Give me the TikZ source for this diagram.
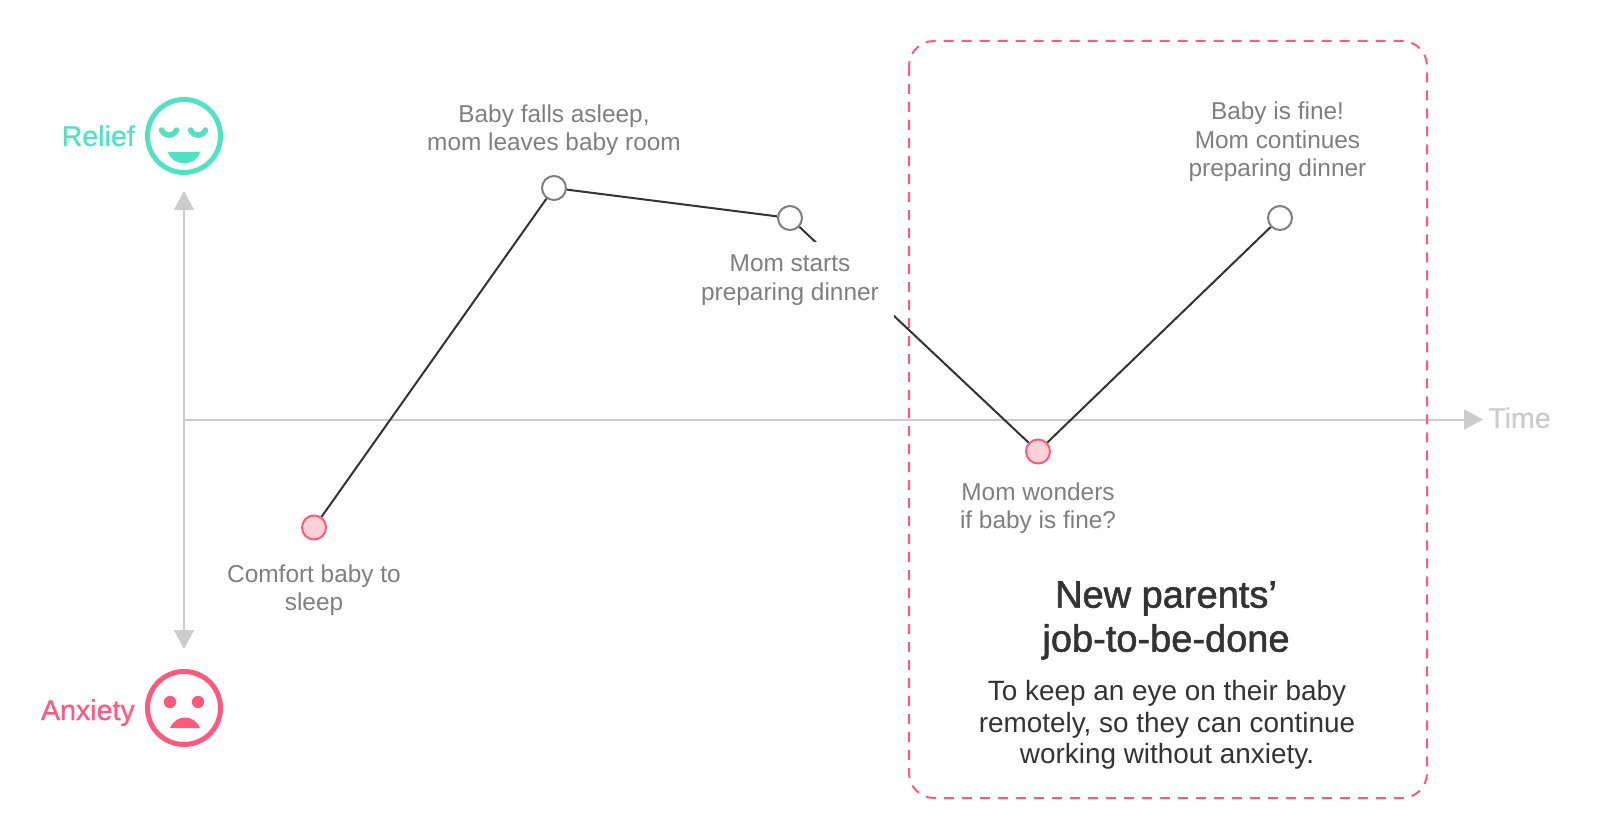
\documentclass[tikz,border=0pt]{standalone}
\usepackage{fontspec}
\setmainfont{Liberation Sans}
\newfontfamily\headfont[FakeBold=1.5]{Liberation Sans}
\newfontfamily\moodfont[FakeBold=0.6]{Liberation Sans}
\usetikzlibrary{arrows.meta}

\definecolor{reliefcol}{HTML}{50E3C2}
\definecolor{anxietycol}{HTML}{FF5A7D}
\definecolor{axiscol}{HTML}{CCCCCC}
\definecolor{textcol}{HTML}{7F7F7F}
\definecolor{linecol}{HTML}{333333}
\definecolor{lowfill}{HTML}{FFD2D8}

\tikzset{
  axisline/.style={draw=axiscol, line width=2pt},
  face/.style={circle, draw=#1, line width=5pt, minimum size=73pt, inner sep=0pt},
  highdot/.style={circle, draw=textcol, fill=white, line width=2pt, minimum size=24pt, inner sep=0pt},
  lowdot/.style={circle, draw=anxietycol, fill=lowfill, line width=2pt, minimum size=24pt, inner sep=0pt},
  journey/.style={draw=linecol, line width=2pt},
  steptext/.style={text=textcol, align=center, inner sep=0pt, font=\fontsize{24.4}{28.5}\selectfont},
  moodtext/.style={anchor=base east, inner sep=0pt, font=\moodfont\fontsize{28.6}{32}\selectfont}
}

\begin{document}
\begin{tikzpicture}[x=1pt, y=-1pt]

\def\xa{184}; % mood axis
\def\ya{419.5}; % time axis

\useasboundingbox (0,0) rectangle (1600,840);

% axes
\coordinate (top) at (\xa, 191);
\coordinate (bottom) at (\xa, 649);
\coordinate (origin) at (\xa, \ya);
\coordinate (end) at (1483, \ya);
\draw[axisline, {Triangle[length=19pt, width=20pt]}-{Triangle[length=19pt, width=20pt]}] (top) -- (bottom);
\draw[axisline, -{Triangle[length=19pt, width=20pt]}] (origin) -- (end);
\node[anchor=base west, inner sep=0pt, text=axiscol, font=\moodfont\fontsize{28.6}{32}\selectfont] (time) at (1488, 428) {Time};

% relief face
\node[face=reliefcol] (relief) at (\xa, 136) {};
\node[moodtext, text=reliefcol] (relieflabel) at (135, 146) {Relief};
\draw[reliefcol, line width=5.5pt, line cap=round] (161.5, 130) .. controls (165, 137) and (173, 137) .. (176.5, 130);
\draw[reliefcol, line width=5.5pt, line cap=round] (190.5, 130) .. controls (194, 137) and (202, 137) .. (205.5, 130);
\fill[reliefcol] (168, 152) -- (200, 152) .. controls (196, 167) and (172, 167) .. (168, 152) -- cycle;

% anxiety face
\node[face=anxietycol] (anxiety) at (\xa, 708) {};
\node[moodtext, text=anxietycol] (anxietylabel) at (135, 720) {Anxiety};
\fill[anxietycol] (170, 702) circle (6.2pt);
\fill[anxietycol] (198, 702) circle (6.2pt);
\fill[anxietycol] (170, 728) .. controls (176, 714) and (194, 714) .. (200, 728) -- cycle;

% steps
\node[lowdot] (comfort) at (314, 527.5) {};
\node[highdot] (asleep) at (554, 188) {};
\node[highdot] (dinner) at (790, 218) {};
\node[lowdot] (wonder) at (1038, 451.5) {};
\node[highdot] (fine) at (1280, 218) {};

\draw[journey] (comfort) -- (asleep);
\draw[journey] (asleep) -- (dinner);
\draw[journey] (dinner) -- (wonder);
\draw[journey] (wonder) -- (fine);

\node[steptext] (comforttext) at (314, 590) {Comfort baby to\\sleep};
\node[steptext] (asleeptext) at (554, 130) {Baby falls asleep,\\mom leaves baby room};
\node[steptext, fill=white, minimum width=208pt, minimum height=76pt] (dinnertext) at (790, 280) {Mom starts\\preparing dinner};
\node[steptext] (wondertext) at (1038, 508) {Mom wonders\\if baby is fine?};
\node[steptext] (finetext) at (1277.5, 142) {Baby is fine!\\Mom continues\\preparing dinner};

% job box
\draw[anxietycol, line width=2pt, dash pattern=on 10pt off 8pt, rounded corners=25pt] (909, 41) rectangle (1427, 798);
\node[inner sep=0pt, align=center, text=linecol, font=\headfont\fontsize{38}{44}\selectfont] (jobtitle) at (1166, 620.5) {New parents’\\job-to-be-done};
\node[inner sep=0pt, align=center, text=linecol, font=\fontsize{27.9}{31.6}\selectfont] (jobtext) at (1167, 725) {To keep an eye on their baby\\remotely, so they can continue\\working without anxiety.};

\end{tikzpicture}
\end{document}
